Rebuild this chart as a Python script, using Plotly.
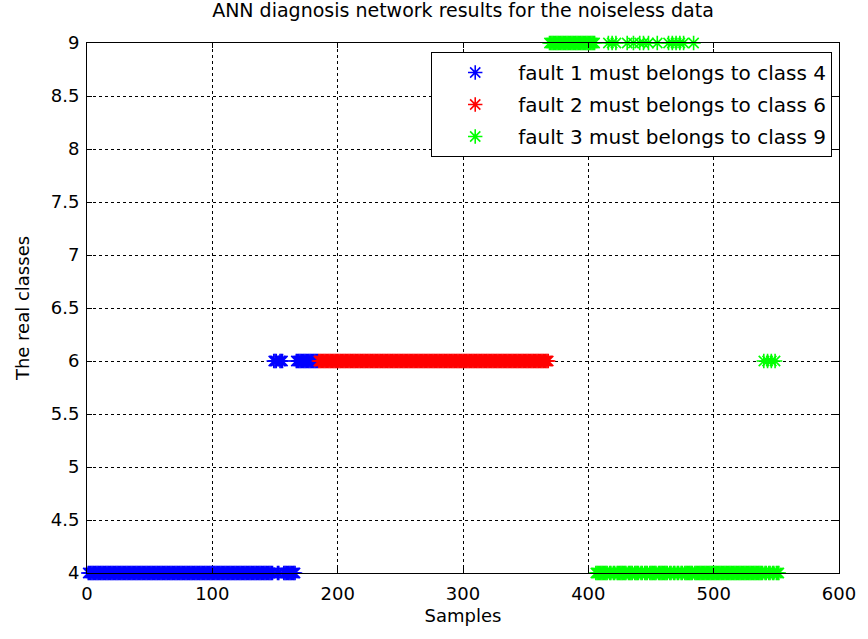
import plotly.graph_objects as go

# Runs of (first sample, last sample, class)
fault1_runs = [(1, 148, 4), (149, 151, 6), (152, 153, 4), (154, 156, 6),
               (157, 166, 4), (167, 184, 6)]
fault2_runs = [(185, 368, 6)]
fault3_runs = [(369, 405, 9), (406, 415, 4), (416, 416, 9), (417, 418, 4),
               (419, 419, 9), (420, 421, 4), (422, 422, 9), (423, 430, 4),
               (431, 431, 9), (432, 435, 4), (436, 436, 9), (437, 440, 4),
               (441, 441, 9), (442, 443, 4), (444, 444, 9), (445, 447, 4),
               (448, 448, 9), (449, 454, 4), (455, 455, 9), (456, 463, 4),
               (464, 464, 9), (465, 466, 4), (467, 467, 9), (468, 469, 4),
               (470, 470, 9), (471, 472, 4), (473, 473, 9), (474, 475, 4),
               (476, 476, 9), (477, 483, 4), (484, 484, 9), (485, 539, 4),
               (540, 540, 6), (541, 542, 4), (543, 543, 6), (544, 545, 4),
               (546, 546, 6), (547, 548, 4), (549, 549, 6), (550, 552, 4)]

series_names = ["fault 1 must belongs to class 4",
                "fault 2 must belongs to class 6",
                "fault 3 must belongs to class 9"]
series_colors = ["#0000ff", "#ff0000", "#00ff00"]

x_ticks = [0, 100, 200, 300, 400, 500, 600]
y_ticks = [4, 4.5, 5, 5.5, 6, 6.5, 7, 7.5, 8, 8.5, 9]

FONT = "DejaVu Sans, Arial"


def expand(runs):
    xs, ys = [], []
    for a, b, c in runs:
        for s in range(a, b + 1):
            xs.append(s)
            ys.append(c)
    return xs, ys


fig = go.Figure()
for i, (runs, name, col) in enumerate(zip([fault1_runs, fault2_runs, fault3_runs],
                                          series_names, series_colors)):
    xs, ys = expand(runs)
    fig.add_trace(go.Scatter(
        x=xs, y=ys, mode="markers", name=name, legendgroup="g%d" % i,
        cliponaxis=False,
        marker=dict(symbol="asterisk-open", size=12, color=col,
                    line=dict(color=col, width=1.6)),
    ))

axis_common = dict(
    showline=True, linecolor="black", linewidth=1, mirror="ticks",
    ticks="inside", ticklen=5, tickcolor="black",
    showgrid=True, gridcolor="black", griddash="dot", gridwidth=1,
    zeroline=False,
    tickfont=dict(family=FONT, size=18, color="black"),
)

fig.update_layout(
    width=868, height=639,
    margin=dict(l=87, r=25, t=43, b=66),
    paper_bgcolor="white", plot_bgcolor="white",
    title=dict(text="ANN diagnosis network results for the noiseless data",
               x=0.5, xref="paper", y=1, yref="container", yanchor="top",
               pad=dict(t=4),
               font=dict(family=FONT, size=19, color="black")),
    xaxis=dict(range=[0, 600], tickvals=x_ticks, ticklabelstandoff=4,
               title=dict(text="Samples", standoff=6,
                          font=dict(family=FONT, size=18, color="black")),
               **axis_common),
    yaxis=dict(range=[4, 9], tickvals=y_ticks, ticklabelstandoff=3,
               title=dict(text="The real classes", standoff=16,
                          font=dict(family=FONT, size=18, color="black")),
               **axis_common),
    legend=dict(x=0.991, y=0.983, xanchor="right", yanchor="top",
                bgcolor="white", bordercolor="black", borderwidth=1,
                itemwidth=76, tracegroupgap=3,
                font=dict(family=FONT, size=20, color="black")),
    showlegend=True,
)

fig.write_html("out.html")
